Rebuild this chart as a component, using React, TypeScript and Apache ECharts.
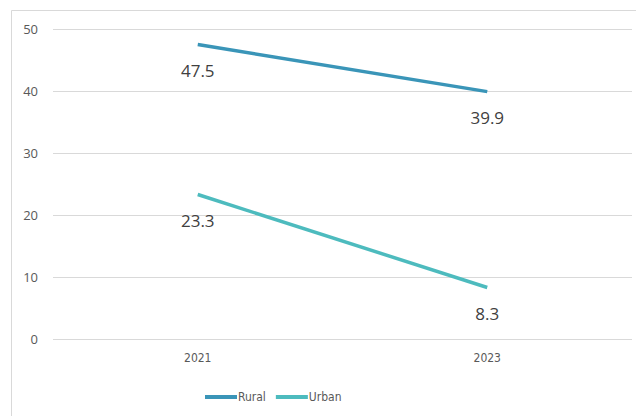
import React, { useEffect, useRef } from "react";
import * as echarts from "echarts";

const categories = ["2021", "2023"];
const rural = [47.5, 39.9];
const urban = [23.3, 8.3];
const yTicks = { min: 0, max: 50, interval: 10 };

export default function App() {
  const ref = useRef<HTMLDivElement>(null);
  useEffect(() => {
    if (!ref.current) return;
    const chart = echarts.init(ref.current, undefined, { renderer: "svg" });
    const labelStyle = {
      show: true,
      position: "bottom" as const,
      distance: 17,
      fontSize: 17,
      color: "#404040",
      fontFamily: "Open Sans",
    };
    chart.setOption({
      animation: false,
      backgroundColor: "#ffffff",
      graphic: [
        {
          type: "rect",
          shape: { x: 11.5, y: 10.5, width: 700, height: 500 },
          style: { fill: "none", stroke: "#d9d9d9", lineWidth: 1 },
          silent: true,
        },
      ],
      grid: { left: 53, right: 4, top: 29, bottom: 77 },
      xAxis: {
        type: "category",
        data: categories,
        boundaryGap: true,
        axisLine: { show: false },
        axisTick: { show: false },
        axisLabel: {
          margin: 13,
          fontSize: 12,
          color: "#595959",
          fontFamily: "DejaVu Sans Condensed",
        },
      },
      yAxis: {
        type: "value",
        min: yTicks.min,
        max: yTicks.max,
        interval: yTicks.interval,
        axisLine: { show: false },
        axisTick: { show: false },
        axisLabel: {
          margin: 15,
          fontSize: 13,
          color: "#595959",
          fontFamily: "Open Sans",
        },
        splitLine: { lineStyle: { color: "#d9d9d9", width: 1 } },
      },
      legend: {
        left: 200,
        top: 386,
        itemWidth: 32,
        itemHeight: 4,
        itemGap: 10,
        icon: "rect",
        textStyle: {
          fontSize: 12,
          color: "#595959",
          fontFamily: "DejaVu Sans Condensed",
          padding: [0, 0, 0, -4],
        },
        data: ["Rural", "Urban"],
      },
      series: [
        {
          name: "Rural",
          type: "line",
          data: rural,
          symbol: "circle",
          symbolSize: 0.1,
          showSymbol: true,
          lineStyle: { width: 3.5, color: "#3A95B8" },
          itemStyle: { color: "#3A95B8" },
          label: labelStyle,
        },
        {
          name: "Urban",
          type: "line",
          data: urban,
          symbol: "circle",
          symbolSize: 0.1,
          showSymbol: true,
          lineStyle: { width: 3.5, color: "#4DBBBE" },
          itemStyle: { color: "#4DBBBE" },
          label: labelStyle,
        },
      ],
    });
    return () => chart.dispose();
  }, []);
  return <div ref={ref} style={{ width: 636, height: 416, position: "absolute", left: 0, top: 0 }} />;
}
